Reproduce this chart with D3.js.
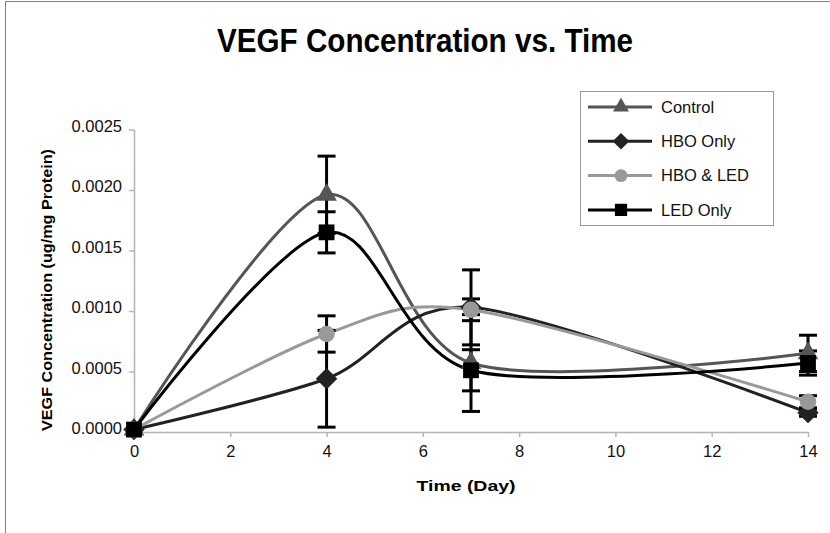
<!DOCTYPE html>
<html>
<head>
<meta charset="utf-8">
<script src="https://cdn.jsdelivr.net/npm/d3@7"></script>
<style>
  body { margin: 0; background: #fff; }
  svg { font-family: "Liberation Sans", Arial, sans-serif; }
</style>
</head>
<body>
<div id="chart"></div>
<script>
// values
const days = [0, 4, 7, 14];
const control = [0.00002, 0.00196, 0.00057, 0.00065];
const controlErr = [0, 0.00032, 0.0004, 0.00015];
const hboOnly = [0.00002, 0.00044, 0.00103, 0.00016];
const hboOnlyErr = [0, 0.0004, 0.00031, 0.00003];
const hboLed = [0.00002, 0.00081, 0.00101, 0.00025];
const hboLedErr = [0, 0.00015, 0.00009, 0.00005];
const ledOnly = [0.00002, 0.00165, 0.00051, 0.00057];
const ledOnlyErr = [0, 0.00017, 0.00017, 0.0001];
const xTicks = [0, 2, 4, 6, 8, 10, 12, 14];
const yTicks = [0, 0.0005, 0.001, 0.0015, 0.002, 0.0025];

const series = [
  { name: 'Control', values: control, err: controlErr, color: '#555555', symbol: d3.symbolTriangle, size: 185, rot: 0 },
  { name: 'HBO Only', values: hboOnly, err: hboOnlyErr, color: '#222222', symbol: d3.symbolSquare, size: 230, rot: 45 },
  { name: 'HBO & LED', values: hboLed, err: hboLedErr, color: '#999999', symbol: d3.symbolCircle, size: 215, rot: 0 },
  { name: 'LED Only', values: ledOnly, err: ledOnlyErr, color: '#000000', symbol: d3.symbolSquare, size: 250, rot: 0 }
];

const width = 830;
const height = 533;
const margin = { top: 129.5, right: 22, bottom: 101, left: 134 };

const svg = d3.select('#chart')
  .append('svg')
  .attr('width', width)
  .attr('height', height);

// outer frame (only top and left edges visible)
svg.append('rect')
  .attr('x', 5.5)
  .attr('y', 1.5)
  .attr('width', width + 20)
  .attr('height', height + 20)
  .attr('fill', 'none')
  .attr('stroke', '#808080')
  .attr('stroke-width', 1);

const x = d3.scaleLinear()
  .domain([0, 14])
  .range([margin.left, width - margin.right]);

const y = d3.scaleLinear()
  .domain([0, 0.0025])
  .range([height - margin.bottom, margin.top]);

// axes
const xAxis = svg.append('g')
  .attr('transform', `translate(0,${y(0)})`)
  .call(d3.axisBottom(x).tickValues(xTicks).tickSize(5).tickSizeOuter(0).tickPadding(8).tickFormat(d3.format('d')));

const yAxis = svg.append('g')
  .attr('transform', `translate(${x(0)},0)`)
  .call(d3.axisLeft(y).tickValues(yTicks).tickSize(5).tickSizeOuter(0).tickPadding(7).tickFormat(d3.format('.4f')));

[xAxis, yAxis].forEach(a => {
  a.select('.domain').attr('stroke', '#b4b4b4').attr('stroke-width', 1.5);
  a.selectAll('.tick line').attr('stroke', '#b4b4b4').attr('stroke-width', 1.5);
  a.selectAll('.tick text')
    .attr('fill', '#111')
    .attr('font-size', '16.5px')
    .attr('font-family', '"Liberation Sans", Arial, sans-serif');
});
yAxis.selectAll('.tick text').attr('dy', '0.1em');

// axis titles
svg.append('text')
  .attr('x', 466)
  .attr('y', 491)
  .attr('text-anchor', 'middle')
  .attr('font-size', '15px')
  .attr('font-weight', 'bold')
  .attr('textLength', 99)
  .attr('lengthAdjust', 'spacingAndGlyphs')
  .text('Time (Day)');

svg.append('text')
  .attr('transform', 'rotate(-90)')
  .attr('x', -290)
  .attr('y', 52)
  .attr('text-anchor', 'middle')
  .attr('font-size', '15px')
  .attr('font-weight', 'bold')
  .attr('textLength', 282)
  .attr('lengthAdjust', 'spacingAndGlyphs')
  .text('VEGF Concentration (ug/mg Protein)');

// title
svg.append('text')
  .attr('x', 425)
  .attr('y', 52)
  .attr('text-anchor', 'middle')
  .attr('font-size', '33px')
  .attr('font-weight', 'bold')
  .attr('textLength', 416)
  .attr('lengthAdjust', 'spacingAndGlyphs')
  .text('VEGF Concentration vs. Time');

const line = d3.line()
  .x((d, i) => x(days[i]))
  .y(d => y(d))
  .curve(d3.curveCardinal.tension(0.1));

// lines
series.forEach(s => {
  svg.append('path')
    .datum(s.values)
    .attr('fill', 'none')
    .attr('stroke', s.color)
    .attr('stroke-width', 3)
    .attr('d', line);
});

// error bars
series.forEach(s => {
  const g = svg.append('g').attr('stroke', '#000').attr('stroke-width', 3);
  s.values.forEach((v, i) => {
    if (!s.err[i]) return;
    const cx = x(days[i]);
    const top = y(v + s.err[i]);
    const bot = y(v - s.err[i]);
    g.append('line').attr('x1', cx).attr('x2', cx).attr('y1', top).attr('y2', bot);
    g.append('line').attr('x1', cx - 9).attr('x2', cx + 9).attr('y1', top).attr('y2', top);
    g.append('line').attr('x1', cx - 9).attr('x2', cx + 9).attr('y1', bot).attr('y2', bot);
  });
});

// markers
series.forEach(s => {
  const sym = d3.symbol().type(s.symbol).size(s.size);
  svg.selectAll(null)
    .data(s.values)
    .enter()
    .append('path')
    .attr('d', sym)
    .attr('transform', (d, i) => `translate(${x(days[i])},${y(d)}) rotate(${s.rot})`)
    .attr('fill', s.color);
});

// legend
const legend = svg.append('g');
legend.append('rect')
  .attr('x', 580.5)
  .attr('y', 91.5)
  .attr('width', 193)
  .attr('height', 134)
  .attr('fill', '#fff')
  .attr('stroke', '#999')
  .attr('stroke-width', 1);

series.forEach((s, i) => {
  const ly = 107 + i * 34.3;
  legend.append('line')
    .attr('x1', 588).attr('x2', 652)
    .attr('y1', ly).attr('y2', ly)
    .attr('stroke', s.color)
    .attr('stroke-width', 3);
  legend.append('path')
    .attr('d', d3.symbol().type(s.symbol).size(s.size * 0.6))
    .attr('transform', `translate(621,${ly}) rotate(${s.rot})`)
    .attr('fill', s.color);
  legend.append('text')
    .attr('x', 661)
    .attr('y', ly)
    .attr('dy', '0.35em')
    .attr('font-size', '16.5px')
    .attr('fill', '#111')
    .text(s.name);
});
</script>
</body>
</html>
